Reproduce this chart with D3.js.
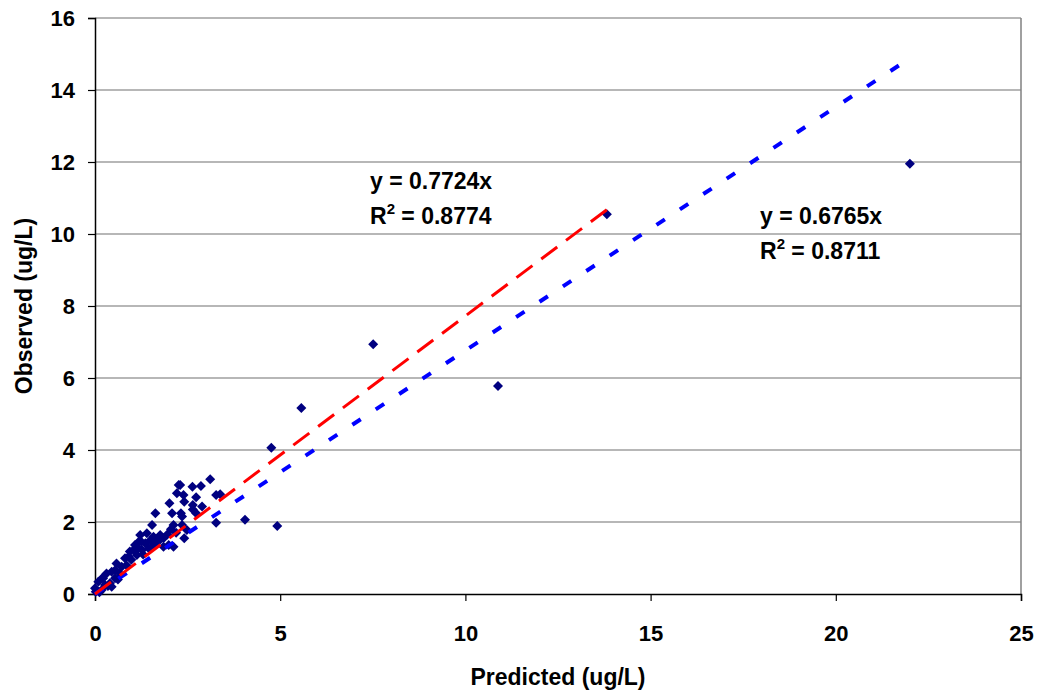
<!DOCTYPE html>
<html>
<head>
<meta charset="utf-8">
<script src="https://cdn.jsdelivr.net/npm/d3@7"></script>
<style>
  body { margin: 0; background: #fff; }
  svg text { font-family: "Liberation Sans", Arial, sans-serif; font-weight: bold; }
</style>
</head>
<body>
<svg class="chart"></svg>
<script>
// predicted vs observed (ug/L)
var predicted = [22.0, 13.82, 7.51, 10.88, 5.57, 4.76, 4.92, 4.05,
  3.11, 2.63, 2.86, 2.30, 2.73, 3.27, 3.38, 2.41, 2.64, 2.73, 2.89, 2.32, 2.35, 3.27, 2.41,
  2.26, 2.39, 2.01, 2.64, 1.63, 2.08, 2.35, 1.54, 2.12, 2.48, 2.19, 1.22, 1.40, 1.58, 1.76,
  1.85, 1.18, 1.36, 1.58, 1.99, 1.04, 1.27, 1.45, 0.91, 1.13, 2.21, 2.12, 1.85,
  1.08, 1.17, 0.94, 0.81, 0.58, 0.45, 0.31, 0.22, 0.09, 0.0, 0.02, 0.27, 0.45, 0.18,
  0.54, 0.67, 0.72, 0.19, 0.55, 0.35, 0.62, 0.12, 0.40, 0.85, 0.98, 1.30, 1.70,
  1.70, 1.95, 2.05, 1.50, 1.25];
var observed = [11.95, 10.55, 6.94, 5.78, 5.17, 4.06, 1.89, 2.06,
  3.19, 2.98, 3.00, 3.03, 2.69, 2.75, 2.77, 2.56, 2.35, 2.24, 2.43, 2.24, 1.92, 1.98, 1.55,
  3.03, 2.75, 2.52, 2.47, 2.24, 2.24, 2.15, 1.92, 1.92, 1.78, 1.70, 1.64, 1.69, 1.59, 1.64,
  1.55, 1.45, 1.41, 1.36, 1.36, 1.22, 1.22, 1.27, 1.04, 1.08, 2.80, 1.31, 1.31,
  1.36, 1.27, 1.18, 0.99, 0.85, 0.62, 0.57, 0.44, 0.34, 0.16, 0.06, 0.25, 0.20, 0.11,
  0.44, 0.57, 0.76, 0.44, 0.67, 0.22, 0.40, 0.05, 0.30, 0.80, 0.95, 1.10, 1.50,
  1.45, 1.65, 1.80, 1.50, 1.45];

// trendlines through origin: slope, max x, label lines
var trendSlopes = [0.7724, 0.6765];
var trendMaxX = [13.85, 21.85];
var trendColors = ["#ff0000", "#0000ff"];
var eqLabels = ["y = 0.7724x", "y = 0.6765x"];
var r2Values = ["0.8774", "0.8711"];

var xTicks = [0, 5, 10, 15, 20, 25];
var yTicks = [0, 2, 4, 6, 8, 10, 12, 14, 16];

var margin = {top: 18, right: 18, bottom: 96, left: 95},
    W = 1039, H = 690,
    width = W - margin.left - margin.right,
    height = H - margin.top - margin.bottom;

var x = d3.scaleLinear().domain([0, 25]).range([margin.left, margin.left + width]);
var y = d3.scaleLinear().domain([0, 16]).range([margin.top + height, margin.top]);

var chart = d3.select(".chart")
    .attr("width", W)
    .attr("height", H);

// gridlines
chart.selectAll(".grid")
    .data(yTicks.slice(1))
  .enter().append("line")
    .attr("x1", x(0)).attr("x2", x(25))
    .attr("y1", function(d) { return y(d); })
    .attr("y2", function(d) { return y(d); })
    .attr("stroke", "#707070")
    .attr("stroke-width", 1.2);

// right border
chart.append("line")
    .attr("x1", x(25)).attr("x2", x(25))
    .attr("y1", y(16)).attr("y2", y(0))
    .attr("stroke", "#808080")
    .attr("stroke-width", 1.5);

var xAxis = d3.axisBottom(x).tickValues(xTicks).tickSize(7).tickPadding(24);
var yAxis = d3.axisLeft(y).tickValues(yTicks).tickSize(7).tickPadding(13);

var gx = chart.append("g")
    .attr("transform", "translate(0," + y(0) + ")")
    .call(xAxis);
var gy = chart.append("g")
    .attr("transform", "translate(" + x(0) + ",0)")
    .call(yAxis);

[gx, gy].forEach(function(g) {
  g.select(".domain").attr("stroke", "#000").attr("stroke-width", 1.5);
  g.selectAll(".tick line").attr("stroke", "#000").attr("stroke-width", 1.2);
  g.selectAll(".tick text")
    .style("font-size", "22px")
    .style("font-family", "Liberation Sans, Arial, sans-serif")
    .style("font-weight", "bold")
    .attr("fill", "#000");
});
gy.selectAll(".tick text").attr("dy", "0.36em");

// points
var pts = predicted.map(function(d, i) { return {p: d, o: observed[i]}; });
chart.selectAll(".pt")
    .data(pts)
  .enter().append("path")
    .attr("class", "pt")
    .attr("d", d3.symbol().type(d3.symbolSquare).size(50))
    .attr("transform", function(d) { return "translate(" + x(d.p) + "," + y(d.o) + ") rotate(45)"; })
    .attr("fill", "#000080");

// trendlines
chart.append("line")
    .attr("x1", x(0)).attr("y1", y(0))
    .attr("x2", x(trendMaxX[1])).attr("y2", y(trendSlopes[1] * trendMaxX[1]))
    .attr("stroke", trendColors[1])
    .attr("stroke-width", 4)
    .attr("stroke-dasharray", "10,18");

chart.append("line")
    .attr("x1", x(0)).attr("y1", y(0))
    .attr("x2", x(trendMaxX[0])).attr("y2", y(trendSlopes[0] * trendMaxX[0]))
    .attr("stroke", trendColors[0])
    .attr("stroke-width", 3)
    .attr("stroke-dasharray", "20,11");

// equation labels
var labelPos = [[370, 189], [760, 224]];
labelPos.forEach(function(pos, i) {
  chart.append("text")
      .attr("x", pos[0]).attr("y", pos[1])
      .style("font-size", "23px")
      .text(eqLabels[i]);
  var t = chart.append("text")
      .attr("x", pos[0]).attr("y", pos[1] + 35)
      .style("font-size", "23px");
  t.append("tspan").text("R");
  t.append("tspan").attr("dy", -10).style("font-size", "15px").text("2");
  t.append("tspan").attr("dy", 10).text(" = " + r2Values[i]);
});

// axis titles
chart.append("text")
    .attr("x", (margin.left + margin.left + width) / 2)
    .attr("y", 685)
    .attr("text-anchor", "middle")
    .style("font-size", "23px")
    .text("Predicted (ug/L)");

chart.append("text")
    .attr("transform", "translate(32," + (margin.top + height / 2) + ") rotate(-90)")
    .attr("text-anchor", "middle")
    .style("font-size", "23px")
    .text("Observed (ug/L)");
</script>
</body>
</html>
